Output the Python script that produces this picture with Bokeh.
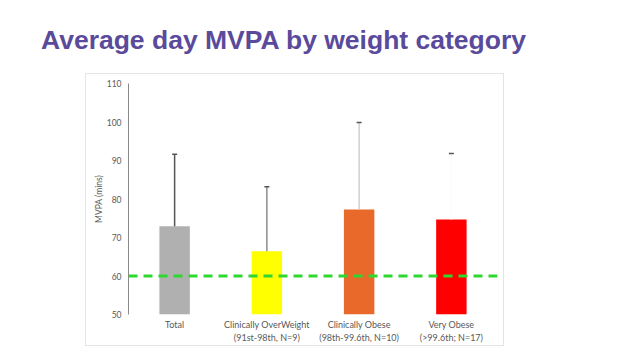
from bokeh.plotting import figure
from bokeh.models import Range1d, FactorRange, FixedTicker, Span, Div, ColumnDataSource
from bokeh.layouts import column
from bokeh.embed import file_html
from bokeh.resources import INLINE

# ---- data ----
categories = ["Total",
              "Clinically OverWeight\n(91st-98th, N=9)",
              "Clinically Obese\n(98th-99.6th, N=10)",
              "Very Obese\n(>99.6th; N=17)"]
mean_mvpa = [72.9, 66.4, 77.3, 74.7]
upper_err = [91.6, 83.2, 99.9, 91.8]
baseline = 50
guideline = 60
y_ticks = [50, 60, 70, 80, 90, 100, 110]
bar_colors = ["#b0b0b0", "#ffff00", "#e8692a", "#ff0000"]
stem_colors = ["#555555", "#8c8c8c", "#cfcfcf", "#fbfbfb"]

src = ColumnDataSource(dict(cat=categories, mean=mean_mvpa, top=upper_err,
                            base=[baseline] * len(categories),
                            color=bar_colors, stem=stem_colors))

title = Div(text='<div style="font-family:\'Liberation Sans\',Arial,sans-serif;font-weight:bold;'
                 'font-size:26.5px;line-height:26.5px;color:#5a4a9c;padding:27px 0 0 41px;white-space:nowrap;">'
                 'Average day MVPA by weight category</div>',
            width=630, height=74, margin=(0, 0, 0, 0))

p = figure(frame_width=369, frame_height=231, x_range=FactorRange(*categories), y_range=Range1d(50, 110),
           output_backend="svg", toolbar_location=None,
           min_border_left=42, min_border_right=6, min_border_top=9, min_border_bottom=28,
           margin=(0, 0, 0, 86))
p.styles = {"outline": "1px solid #e4e4e4"}
p.outline_line_color = None
p.xgrid.grid_line_color = None
p.ygrid.grid_line_color = None

p.vbar(x="cat", bottom="base", top="mean", width=0.33, fill_color="color", line_color=None, source=src)
p.segment(x0="cat", y0="mean", x1="cat", y1="top", line_color="stem", line_width=1.5, source=src)
p.scatter(x="cat", y="top", marker="dash", size=5, line_color="#555555", line_width=1.5, source=src)

p.add_layout(Span(location=guideline, dimension="width", line_color="#2fd82f",
                  line_width=3, line_dash="9 6"))

p.yaxis.ticker = FixedTicker(ticks=y_ticks)
p.yaxis.axis_label = "MVPA (mins)"
p.yaxis.axis_label_text_font = "Lato"
p.yaxis.axis_label_text_font_size = "8.5px"
p.yaxis.axis_label_text_font_style = "normal"
p.yaxis.axis_label_text_color = "#595959"
p.yaxis.axis_label_standoff = 0
p.yaxis.axis_line_color = "#8a8a8a"
p.yaxis.major_tick_line_color = None
p.yaxis.minor_tick_line_color = None
p.yaxis.major_tick_out = 0
p.yaxis.major_tick_in = 0
p.yaxis.major_label_standoff = 7
p.yaxis.major_label_text_font = "Lato"
p.yaxis.major_label_text_font_size = "8.5px"
p.yaxis.major_label_text_color = "#595959"

p.xaxis.axis_line_color = None
p.xaxis.major_tick_line_color = None
p.xaxis.minor_tick_line_color = None
p.xaxis.major_tick_out = 0
p.xaxis.major_tick_in = 0
p.xaxis.major_label_standoff = 4
p.xaxis.major_label_text_font = "Lato"
p.xaxis.major_label_text_font_size = "9px"
p.xaxis.major_label_text_color = "#595959"

layout = column(title, p, spacing=0)
open("out.html", "w").write(file_html(layout, INLINE))
